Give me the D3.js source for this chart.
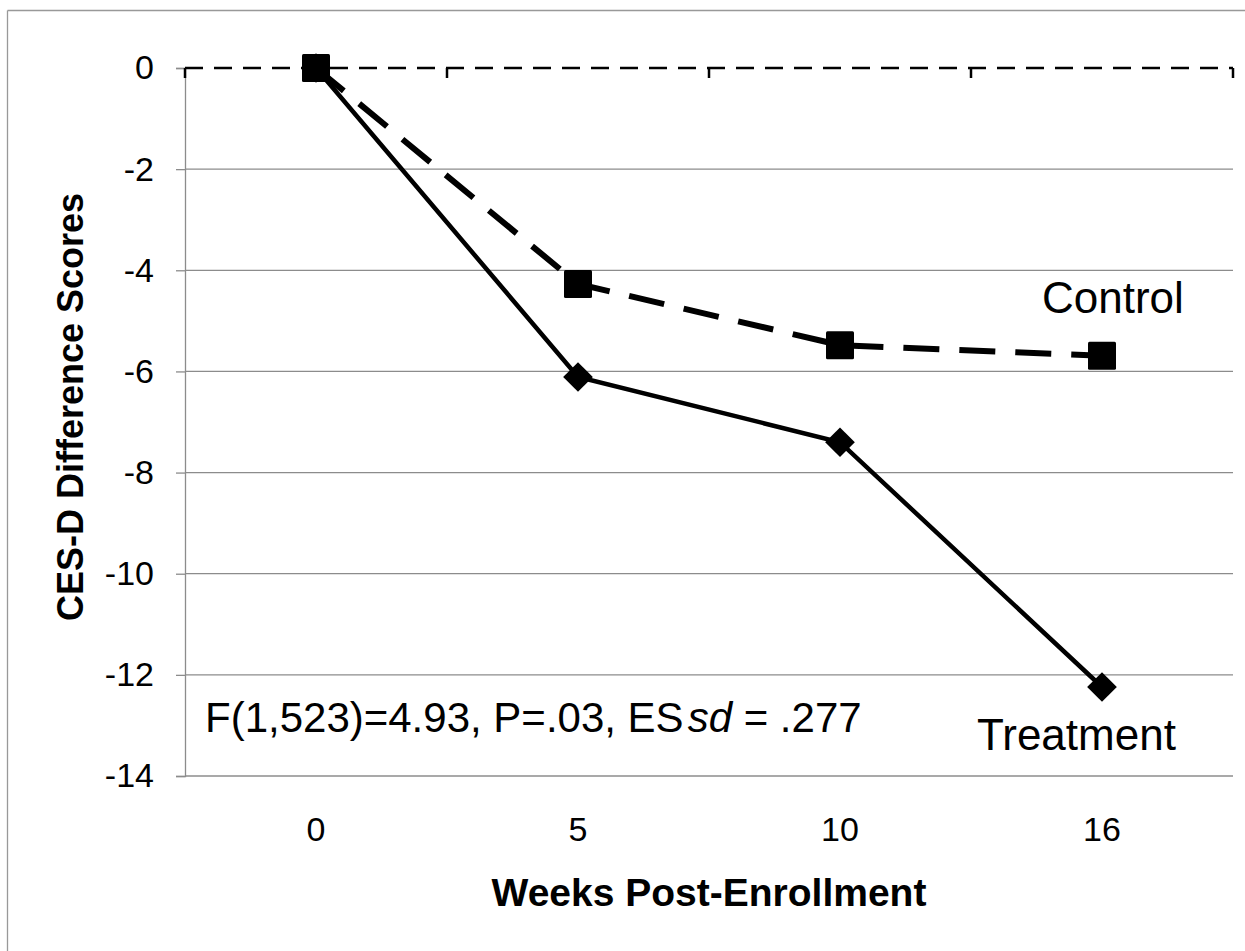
<!DOCTYPE html>
<html>
<head>
<meta charset="utf-8">
<script src="https://cdn.jsdelivr.net/npm/d3@7"></script>
<style>
  html, body { margin: 0; padding: 0; background: #fff; }
  svg { display: block; }
  text { font-family: Arial, "Liberation Sans", sans-serif; fill: #000; }
</style>
</head>
<body>
<svg id="chart" width="1245" height="951"></svg>
<script>
const weeks = ["0", "5", "10", "16"];
const controlValues = [0, -4.27, -5.48, -5.69];
const treatmentValues = [0, -6.11, -7.40, -12.24];
const yTicks = [0, -2, -4, -6, -8, -10, -12, -14];

(function () {
const svg = d3.select("#chart");
const W = 1245, H = 951;
const mLeft = 185, mRight = 1233, mTop = 68, mBottom = 776;

// outer frame (top and left edges visible)
svg.append("line").attr("x1", 7.5).attr("x2", W).attr("y1", 10.5).attr("y2", 10.5)
  .attr("stroke", "#999").attr("stroke-width", 1.3);
svg.append("line").attr("x1", 7.5).attr("x2", 7.5).attr("y1", 10.5).attr("y2", H)
  .attr("stroke", "#999").attr("stroke-width", 1.3);

const x = d3.scaleBand().domain(weeks).range([mLeft, mRight]);
const y = d3.scaleLinear().domain([-14, 0]).range([mBottom, mTop]);

// gridlines
svg.append("g").selectAll("line").data(yTicks.filter(d => d !== 0)).join("line")
  .attr("x1", mLeft).attr("x2", mRight)
  .attr("y1", d => y(d)).attr("y2", d => y(d))
  .attr("stroke", "#8c8c8c").attr("stroke-width", 1.3);

// y axis
const yAxis = svg.append("g").attr("transform", `translate(${mLeft},0)`)
  .call(d3.axisLeft(y).tickValues(yTicks).tickSize(9).tickPadding(22).tickFormat(d => d === 0 ? "0" : "-" + Math.abs(d)));
yAxis.attr("font-size", 34);
yAxis.select(".domain").attr("stroke", "#8c8c8c").attr("stroke-width", 1.3);
yAxis.selectAll(".tick line").attr("stroke", "#8c8c8c").attr("stroke-width", 1.3);
yAxis.selectAll(".tick text").attr("font-size", 34).attr("font-family", "Arial, 'Liberation Sans', sans-serif").attr("fill", "#000");

// x axis at y=0 (dashed), ticks at band boundaries pointing down
const xAxisG = svg.append("g");
xAxisG.append("line").attr("x1", mLeft).attr("x2", mRight).attr("y1", y(0)).attr("y2", y(0))
  .attr("stroke", "#000").attr("stroke-width", 2.5).attr("stroke-dasharray", "18,11");
const boundaries = weeks.map(w => x(w)).concat([x(weeks[weeks.length - 1]) + x.bandwidth()]);
xAxisG.selectAll("line.tk").data(boundaries).join("line").attr("class", "tk")
  .attr("x1", d => d).attr("x2", d => d).attr("y1", y(0)).attr("y2", y(0) + 10)
  .attr("stroke", "#000").attr("stroke-width", 2.5);

// x tick labels
svg.append("g").selectAll("text").data(weeks).join("text")
  .attr("x", d => x(d) + x.bandwidth() / 2).attr("y", 841)
  .attr("text-anchor", "middle").attr("font-size", 34).text(d => d);

// lines
const line = d3.line().x((d, i) => x(weeks[i]) + x.bandwidth() / 2).y(d => y(d));

svg.append("path").datum(treatmentValues).attr("d", line)
  .attr("fill", "none").attr("stroke", "#000").attr("stroke-width", 4.5);
svg.append("path").datum(controlValues).attr("d", line)
  .attr("fill", "none").attr("stroke", "#000").attr("stroke-width", 6)
  .attr("stroke-dasharray", "36,20");

// treatment diamonds
svg.append("g").selectAll("rect").data(treatmentValues).join("rect")
  .attr("x", -10.5).attr("y", -10.5).attr("width", 21).attr("height", 21)
  .attr("transform", (d, i) => `translate(${x(weeks[i]) + x.bandwidth() / 2},${y(d)}) rotate(45)`)
  .attr("fill", "#000");

// control squares
svg.append("g").selectAll("rect").data(controlValues).join("rect")
  .attr("x", (d, i) => x(weeks[i]) + x.bandwidth() / 2 - 14)
  .attr("y", d => y(d) - 14).attr("width", 28).attr("height", 28).attr("rx", 1.5)
  .attr("fill", "#000");

// series labels
svg.append("text").attr("x", 1042).attr("y", 313).attr("font-size", 44).text("Control");
svg.append("text").attr("x", 977).attr("y", 750).attr("font-size", 44).text("Treatment");

// annotation
const ann = svg.append("text").attr("x", 205).attr("y", 732).attr("font-size", 42);
ann.append("tspan").text("F(1,523)=4.93, P=.03, ES");
ann.append("tspan").attr("dx", 4).attr("font-style", "italic").text("sd");
ann.append("tspan").text(" = .277");

// axis titles
svg.append("text").attr("x", (mLeft + mRight) / 2).attr("y", 906)
  .attr("text-anchor", "middle").attr("font-size", 39).attr("font-weight", "bold")
  .text("Weeks Post-Enrollment");
svg.append("text").attr("transform", `translate(83,${(mTop + mBottom) / 2 - 15}) rotate(-90)`)
  .attr("text-anchor", "middle").attr("font-size", 36).attr("font-weight", "bold")
  .text("CES-D Difference Scores");
})();
</script>
</body>
</html>
